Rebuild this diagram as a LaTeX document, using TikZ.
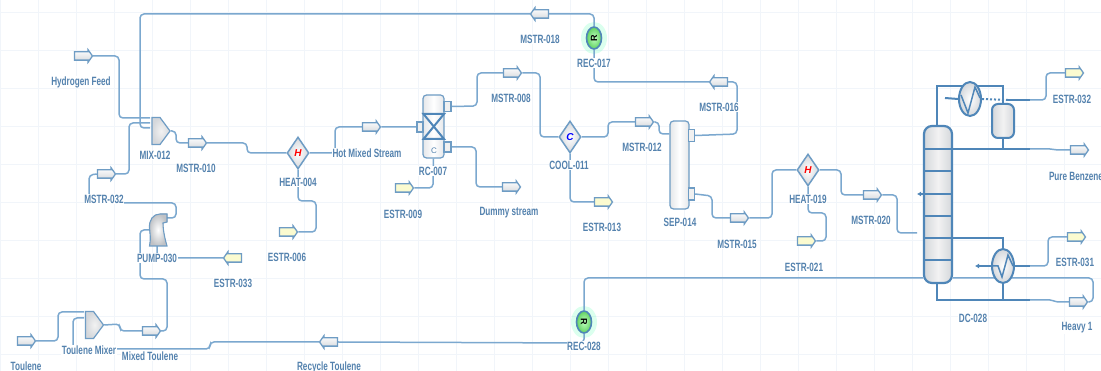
\documentclass[tikz,border=0pt]{standalone}
\usepackage{fontspec}
\setmainfont{Liberation Sans}
\newfontfamily\lblfont[FakeStretch=0.68]{Liberation Sans Bold}
\usetikzlibrary{shapes.geometric,shapes.arrows,shapes.symbols,backgrounds,arrows.meta}
\definecolor{pipe}{HTML}{7BA8CF}
\definecolor{thick}{HTML}{4F86B8}
\definecolor{edge}{HTML}{6E9CC4}
\definecolor{lbl}{HTML}{5482AE}
\definecolor{gridc}{HTML}{F1F5FA}
\definecolor{bodyg}{HTML}{D4D7DB}
\definecolor{yel}{HTML}{FBFBD0}
\tikzset{
  x=1pt,y=-1pt,
  conn/.style={draw=pipe,line width=1.5pt,rounded corners=4pt},
  bus/.style={draw=thick,line width=2pt},
  lab/.style={font=\lblfont\fontsize{12}{12}\selectfont,text=lbl,fill=white,inner sep=0.6pt},
  streamr/.style={single arrow,single arrow head extend=2pt,single arrow tip angle=110,shape border rotate=0,
    text height=7pt,text depth=0pt,text width=10pt,
    minimum height=18pt,minimum width=12pt,inner sep=0pt,draw=edge,line width=1.3pt,
    top color=white,bottom color=bodyg,shading angle=0},
  streaml/.style={streamr,shape border rotate=180},
  estrr/.style={streamr,top color=yel,bottom color=yel},
  estrl/.style={streaml,top color=yel,bottom color=yel},
  htr/.style={diamond,aspect=0.7,minimum width=22pt,minimum height=32pt,inner sep=0pt,draw=edge,line width=1.5pt,
    inner color=white,outer color=bodyg},
  mixr/.style={signal,signal to=east,signal pointer angle=107,minimum width=18pt,minimum height=27pt,inner sep=0pt,
    draw=edge,line width=1.2pt,inner color=white!90!gray,outer color=bodyg},
  rec/.style={ellipse,minimum width=15pt,minimum height=22pt,inner sep=0pt,draw=thick,line width=1.6pt,
    inner color=green!25!white,outer color=green!55!gray!80,font=\fontsize{9}{9}\selectfont},
  vess/.style={rectangle,rounded corners=3.5pt,draw=edge,line width=1.2pt,
    left color=bodyg!60,right color=bodyg!60,middle color=white,inner sep=0pt},
  nozz/.style={rectangle,draw=edge,line width=1.2pt,fill=gray!12,inner sep=0pt,minimum width=6pt,minimum height=10pt},
  hx/.style={ellipse,minimum width=22pt,minimum height=34pt,inner sep=0pt,draw=thick,line width=2pt,
    inner color=white,outer color=bodyg},
  col/.style={rectangle,rounded corners=8pt,draw=thick,line width=2.2pt,inner sep=0pt,
    left color=bodyg,right color=bodyg,middle color=white!90!gray},
  drum/.style={rectangle,rounded corners=6pt,draw=thick,line width=2pt,inner sep=0pt,
    left color=bodyg,right color=bodyg,middle color=white!90!gray},
  hid/.style={rectangle,inner sep=0pt,minimum width=18pt,minimum height=32pt},
}
\begin{document}
\begin{tikzpicture}
\useasboundingbox (0,0) rectangle (1101,371);
\begin{pgfonlayer}{background}
\fill[white] (0,0) rectangle (1101,371);
\foreach \g in {0,38,...,1100} \draw[gridc,line width=0.6pt] (\g,0) -- (\g,371);
\foreach \g in {12,50,...,371} \draw[gridc,line width=0.6pt] (0,\g) -- (1101,\g);
\end{pgfonlayer}

% streams
\node[streamr] (hyd) at (82,56) {};
\node[streamr] (m032) at (105,174) {};
\node[streamr] (m010) at (196,143) {};
\node[estrr] (e006) at (287,232) {};
\node[estrl] (e033) at (234,258) {};
\node[streamr] (m008) at (511,73) {};
\node[streaml] (m018) at (541,14) {};
\node[streaml] (m016) at (720,82) {};
\node[streamr] (hot) at (370,127) {};
\node[estrr] (e009) at (403,188) {};
\node[streamr] (dummy) at (510,187) {};
\node[streamr] (m012) at (643,122) {};
\node[estrr] (e013) at (602,202) {};
\node[streamr] (m015) at (738,218) {};
\node[estrr] (e021) at (805,241) {};
\node[streamr] (m020) at (871,195) {};
\node[estrr] (e032) at (1073,73) {};
\node[streamr] (benz) at (1078,150) {};
\node[estrr] (e031) at (1075,237) {};
\node[streamr] (heavy) at (1077,302) {};
\node[streamr] (toul) at (25,341) {};
\node[streamr] (mixt) at (150,331) {};
\node[streaml] (rect) at (330,342) {};

% units
\node[mixr] (mix) at (156,131) {};
\node[mixr] (tmix) at (89.5,325) {};
\node[htr] (h004) at (298,153) {\bfseries\itshape\fontsize{10}{10}\selectfont\textcolor{red}{H}};
\node[htr] (c011) at (570,137) {\bfseries\itshape\fontsize{10}{10}\selectfont\textcolor{blue}{C}};
\node[htr] (h019) at (808,170) {\bfseries\itshape\fontsize{10}{10}\selectfont\textcolor{red}{H}};
\node[rec] (r017) at (594,38) {\rotatebox{90}{\textbf{R}}};
\node[rec] (r028) at (584,322) {\rotatebox{-90}{\textbf{R}}};
\begin{pgfonlayer}{background}
\fill[green!45!cyan,opacity=.14] (594,38) ellipse (13 and 16);
\fill[green!45!cyan,opacity=.14] (584,322) ellipse (13 and 16);
\end{pgfonlayer}

% pump
\node[hid] (pump) at (158,230) {};
\fill[draw=edge,line width=1.1pt,inner color=white,outer color=bodyg!90!black]
  (149.5,246) -- (167,246) .. controls (164,236) and (163,228) .. (163,223) -- (167,222) -- (167,214)
  -- (160,214) .. controls (153,214) and (149,220) .. (149.5,228) .. controls (150,234) and (151,238) .. (149.5,246) -- cycle;

% reactor
\node[vess,minimum width=21pt,minimum height=63pt] (rc) at (433.5,126.5) {};
\draw[line width=2pt,draw=thick] (423.5,114) -- (444,114) -- (423.5,139) -- (444,139) -- cycle;
\node[font=\fontsize{8}{8}\selectfont,text=lbl] (rcc) at (434,151) {C};
\node[nozz,minimum width=7pt] (rctop) at (447.5,106.5) {};
\node[nozz,minimum width=7pt] (rcbot) at (447.5,147) {};
\node[nozz] (rcin) at (420,127) {};

% separator
\node[vess,minimum width=19pt,minimum height=88pt] (sep) at (679.5,165) {};
\node[nozz,minimum height=12pt] (septop) at (691.5,135.5) {};
\node[nozz,minimum height=12pt] (sepbot) at (691.5,194) {};

% column and condenser
\node[col,minimum width=28pt,minimum height=157pt] (dc) at (938,204.5) {};
\foreach \t in {149,171,194,216,238,260} \draw[bus] (924,\t) -- (952,\t);
\node[drum,minimum width=22pt,minimum height=34pt] (dr) at (1003,121) {};
\node[hx] (cond) at (970,99) {};
\node[hx] (reb) at (1003,266) {};
\draw[draw=thick,line width=1.5pt] (961,95) -- (968,113) -- (975,87) -- (980,98);
\draw[draw=thick,line width=1.5pt] (993,266) -- (998,266) -- (1002,277) -- (1008,255) -- (1013,266);

\coordinate (bus1) at (1030,100);
\coordinate (bus2) at (1030,149);
\coordinate (bus3) at (1030,266);
\coordinate (bus4) at (1030,300);
\coordinate (stub1) at (945,98);
\coordinate (stub2) at (975,266);
\coordinate (feedin) at (917,233);
\coordinate (feedar) at (917,194);

% labels
\node[lab] (lhyd) at (81,82) {Hydrogen Feed};
\node[lab] (lmix) at (155,155) {MIX-012};
\node[lab] (l010) at (196,168) {MSTR-010};
\node[lab] (l032) at (104,199) {MSTR-032};
\node[lab] (lpump) at (157,258) {PUMP-030};
\node[lab] (l033) at (233,283) {ESTR-033};
\node[lab] (lh004) at (298,182) {HEAT-004};
\node[lab] (l006) at (287,257) {ESTR-006};
\node[lab] (lhot) at (367,153) {Hot Mixed Stream};
\node[lab] (lrc) at (433,171) {RC-007};
\node[lab] (l009) at (403,214) {ESTR-009};
\node[lab] (l008) at (511,98) {MSTR-008};
\node[lab] (ldum) at (509,213) {Dummy stream};
\node[lab] (l018) at (540,39) {MSTR-018};
\node[lab] (lr017) at (594,63) {REC-017};
\node[lab] (lc011) at (569,165) {COOL-011};
\node[lab] (l013) at (602,227) {ESTR-013};
\node[lab] (l012) at (642,147) {MSTR-012};
\node[lab] (l016) at (719,107) {MSTR-016};
\node[lab] (lsep) at (680,222) {SEP-014};
\node[lab] (l015) at (737,244) {MSTR-015};
\node[lab] (lh019) at (808,199) {HEAT-019};
\node[lab] (l021) at (804,267) {ESTR-021};
\node[lab] (l020) at (871,220) {MSTR-020};
\node[lab] (ldc) at (973,318) {DC-028};
\node[lab] (l032b) at (1072,99) {ESTR-032};
\node[lab] (lbenz) at (1076,176) {Pure Benzene};
\node[lab] (l031) at (1075,262) {ESTR-031};
\node[lab] (lheavy) at (1077,328) {Heavy 1};
\node[lab] (lr028) at (584,346) {REC-028};
\node[lab] (ltm) at (89,350) {Toulene Mixer};
\node[lab] (lmt) at (150,356) {Mixed Toulene};
\node[lab] (ltoul) at (26,366) {Toulene};
\node[lab] (lrect) at (329,367) {Recycle Toulene};

% connectors
\begin{pgfonlayer}{background}
\draw[conn] (hyd.east) -- (119,56) -- (119,118) -- (150,118);
\draw[conn] (r017.north) -- (594,14) -- (m018.east);
\draw[conn] (m018.west) -- (140,14) -- (140,128) -- (150,128);
\draw[conn] (m032.east) -- (129,174) -- (129,123) -- (150,123);
\draw[conn] (m032.west) -- (89,175) -- (89,203) -- (176,203) -- (176,218) -- (166,218);
\draw[conn] (mix.east) -- (176,131) -- (176,143) -- (m010.west);
\draw[conn] (m010.east) -- (247,143) -- (247,153) -- (h004.west);
\draw[conn] (h004.east) -- (335,153) -- (335,127) -- (hot.west);
\draw[conn] (hot.east) -- (rcin.west);
\draw[conn] (h004.south) -- (298,201) -- (316,201) -- (316,232) -- (e006.east);
\draw[conn] (e033.west) -- (157,258) -- (157,246);
\draw[conn] (149.5,230) -- (140,230) -- (140,279) -- (167,279) -- (167,331) -- (mixt.east);
\draw[conn] (mixt.west) -- (120,331) -- (120,324) -- (tmix.east);
\draw[conn] (toul.east) -- (58,341) -- (58,312) -- (84,312);
\draw[conn] (rect.west) -- (210,342) -- (210,349) -- (73,349) -- (73,318) -- (84,318);
\draw[conn] (r028.south) -- (584,343) -- (rect.east);
\draw[conn] (rcbot.east) -- (476,147) -- (476,187) -- (dummy.west);
\draw[conn] (rctop.east) -- (477,106) -- (477,73) -- (m008.west);
\draw[conn] (m008.east) -- (540,73) -- (540,137) -- (c011.west);
\draw[conn] (rc.south) -- (433,188) -- (e009.east);
\draw[conn] (c011.east) -- (608,137) -- (608,122) -- (m012.west);
\draw[conn] (c011.south) -- (570,202) -- (e013.west);
\draw[conn] (m012.east) -- (659,122) -- (659,134) -- (sep.west |- 0,134);
\draw[conn] (septop.east) -- (737,134) -- (737,82) -- (m016.east);
\draw[conn] (m016.west) -- (594,82) -- (r017.south);
\draw[conn] (sepbot.east) -- (712,196) -- (712,218) -- (m015.west);
\draw[conn] (m015.east) -- (772,218) -- (772,170) -- (h019.west);
\draw[conn] (h019.east) -- (841,170) -- (841,195) -- (m020.west);
\draw[conn] (m020.east) -- (897,195) -- (897,233) -- (feedin);
\draw[conn] (h019.south) -- (808,213) -- (826,213) -- (826,241) -- (e021.east);
\draw[conn] (r028.north) -- (584,278) -- (dc.west |- 0,278);
\draw[conn] (dc.east |- 0,278) -- (1093,278) -- (1093,302) -- (heavy.east);
\draw[conn] (bus1) -- (1046,100) -- (1046,73) -- (e032.west);
\draw[conn] (bus3) -- (1048,266) -- (1048,237) -- (e031.west);
\draw[conn,rounded corners=2pt] (bus2) -- (1052,149) -- (1056,150) -- (benz.west);
\draw[conn,rounded corners=2pt] (bus4) -- (1052,300) -- (1056,302) -- (heavy.west);
% bold pipes of the column
\draw[bus] (dc.north -| 937,0) -- (937,86) -- (1003,86) -- (dr.north);
\draw[bus] (dr.south) -- (1003,149);
\draw[bus] (dc.east |- 0,149) -- (bus2);
\draw[bus] (dc.east |- 0,238) -- (1003,238) -- (reb.north);
\draw[bus] (reb.south) -- (1003,300);
\draw[bus] (dc.south -| 937,0) -- (937,300) -- (bus4);
\draw[bus] (stub1) -- (cond.west);
\draw[bus,dotted] (cond.east) -- (1008,100);
\draw[bus] (1008,100) -- (bus1);
\draw[bus] (reb.east) -- (bus3);
\draw[bus,-{Latex[length=4pt,width=5pt]}] (reb.west) -- (stub2);
\draw[bus,-{Latex[length=4pt,width=5pt]}] (dc.west |- feedar) -- (feedar);
\end{pgfonlayer}
\end{tikzpicture}
\end{document}
